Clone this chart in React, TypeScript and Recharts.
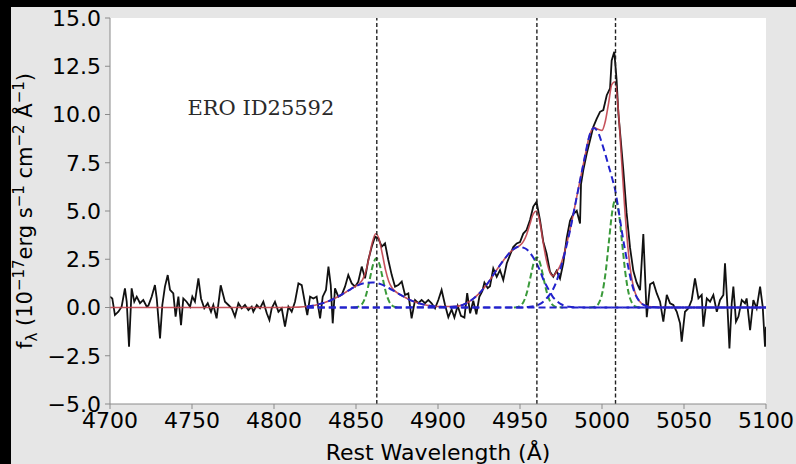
import React from "react";
import {
  LineChart,
  Line,
  XAxis,
  YAxis,
  CartesianGrid,
  ReferenceLine,
  ReferenceDot,
  Label,
} from "recharts";

// observed spectrum (rest wavelength, flux in 1e-17 erg/s/cm2/A)
const specWave = [
  4700.0, 4701.4, 4703.0, 4705.1, 4707.1, 4709.1, 4710.2, 4711.6, 4713.2, 4714.8,
  4716.3, 4718.3, 4720.3, 4722.4, 4723.4, 4725.4, 4727.4, 4728.5, 4730.5, 4731.9,
  4733.5, 4735.2, 4736.6, 4738.6, 4740.0, 4741.7, 4743.3, 4744.7, 4746.7, 4748.8,
  4750.2, 4751.8, 4753.9, 4755.5, 4757.5, 4759.6, 4761.6, 4763.0, 4765.0, 4767.5,
  4770.1, 4772.2, 4774.2, 4776.2, 4778.3, 4780.3, 4782.3, 4784.4, 4786.4, 4787.4,
  4789.5, 4791.5, 4793.5, 4795.6, 4797.2, 4798.6, 4800.6, 4802.7, 4804.7, 4806.7,
  4808.8, 4810.8, 4812.8, 4814.9, 4816.9, 4818.9, 4820.3, 4822.0, 4824.0, 4826.0,
  4828.1, 4829.7, 4831.7, 4833.2, 4834.6, 4835.8, 4837.2, 4839.2, 4841.3, 4843.3,
  4845.3, 4847.4, 4849.4, 4851.4, 4853.5, 4855.5, 4857.5, 4859.6, 4861.6, 4863.6,
  4865.7, 4867.7, 4869.7, 4871.8, 4873.8, 4875.8, 4877.9, 4879.9, 4881.9, 4883.9,
  4886.0, 4888.0, 4890.0, 4892.1, 4894.1, 4896.1, 4898.2, 4900.2, 4902.2, 4904.3,
  4906.3, 4908.3, 4910.0, 4912.0, 4914.0, 4916.1, 4917.8, 4919.6, 4921.5, 4923.4,
  4925.2, 4927.0, 4928.3, 4930.3, 4931.7, 4933.7, 4935.8, 4937.8, 4939.8, 4941.9,
  4943.9, 4945.9, 4948.0, 4950.0, 4952.0, 4954.0, 4956.1, 4958.1, 4960.1, 4962.2,
  4964.2, 4966.2, 4968.3, 4970.3, 4972.3, 4974.4, 4976.4, 4978.5, 4980.5, 4982.5,
  4984.6, 4986.6, 4987.2, 4988.6, 4990.7, 4992.7, 4994.7, 4996.8, 4998.8, 5000.8,
  5002.9, 5004.9, 5005.9, 5007.5, 5008.9, 5010.0, 5011.4, 5013.0, 5015.0, 5017.1,
  5019.1, 5021.1, 5023.2, 5025.2, 5027.3, 5029.3, 5031.3, 5033.4, 5035.4, 5037.4,
  5039.5, 5041.5, 5043.5, 5045.6, 5047.6, 5048.6, 5050.6, 5052.7, 5054.7, 5056.7,
  5058.8, 5060.8, 5061.8, 5063.9, 5065.9, 5067.9, 5070.0, 5072.0, 5074.0, 5075.0,
  5076.5, 5077.7, 5079.1, 5080.1, 5081.7, 5083.2, 5085.2, 5087.2, 5088.2, 5090.3,
  5092.3, 5094.3, 5096.4, 5098.0, 5099.4, 5100.0,
];
const specFlux = [
  0.56, 0.47, -0.39, -0.22, 0.04, 0.99, 0.3, -2.03, 0.99, 0.3,
  0.56, 0.22, 0.39, 0.04, 0.1, 0.56, 1.16, 0.47, -1.6, 0.13,
  1.08, 1.68, 0.91, 0.73, -0.47, 0.56, -0.91, 0.47, 0.3, 0.04,
  0.56, 0.3, 1.51, 0.47, -0.04, 0.22, -0.22, 0.13, -0.56, 1.15,
  0.3, 0.13, -0.04, -0.47, 0.22, -0.04, 0.13, -0.13, 0.04, -0.22,
  0.13, -0.04, 0.3, -0.3, -0.65, -0.04, 0.3, -0.22, -0.04, -0.99,
  0.04, -0.22, 0.3, 1.25, 1.16, 0.22, -0.39, 0.56, 0.47, 0.56,
  -0.56, 0.56, 0.91, 2.12, 1.16, -0.82, 0.99, 0.56, 0.65, 1.08,
  1.68, 1.25, 1.08, 1.34, 2.12, 1.51, 2.46, 3.15, 3.67, 3.58,
  3.15, 3.32, 2.46, 1.68, 1.08, 1.16, 1.34, 0.65, 0.73, -0.56,
  0.39, 0.22, 0.39, 0.22, 0.39, 0.22, -0.04, 0.39, 0.91, 0.13,
  -0.5, -0.1, -0.52, 0.09, -0.43, -0.52, 0.75, -0.3, 0.35, -0.35,
  0.55, 0.85, 1.29, 1.0, 1.1, 2.02, 1.59, 1.94, 1.42, 2.28,
  2.72, 3.13, 3.32, 3.39, 3.83, 4.01, 4.53, 5.23, 5.48, 4.53,
  3.41, 2.8, 1.85, 1.59, 1.9, 1.5, 2.3, 3.6, 4.49, 4.84,
  5.01, 4.35, 6.4, 7.12, 7.98, 8.67, 9.36, 9.79, 10.14, 10.23,
  11.0, 11.35, 12.8, 13.25, 11.8, 10.05, 8.7, 7.12, 4.9, 3.1,
  1.9, 1.3, 0.9, 3.8, -0.5, 1.2, 1.3, 0.73, 0.3, -0.73,
  0.65, 0.22, 0.13, -0.22, -0.82, -1.77, -0.22, -0.04, 0.39, 1.51,
  0.47, 0.65, -0.99, 0.47, 0.3, 0.65, -0.22, 0.39, 0.65, 2.29,
  0.04, -2.12, 0.22, 1.08, -0.73, -0.47, 0.39, 0.22, 0.47, -1.17,
  0.39, -0.04, 1.08, 0.04, -2.03, -1.0,
];

// total model (red)
const fitWave = [
  4700, 4750, 4800, 4810, 4815, 4820, 4825, 4830, 4835, 4840,
  4845, 4850, 4852, 4854, 4856, 4858, 4860, 4862, 4864, 4866,
  4868, 4870, 4872, 4875, 4880, 4885, 4890, 4895, 4900, 4905,
  4910, 4915, 4920, 4925, 4930, 4935, 4940, 4945, 4948, 4950,
  4952, 4954, 4956, 4958, 4960, 4962, 4964, 4966, 4968, 4970,
  4972, 4975, 4980, 4985, 4990, 4992, 4995, 4998, 5000, 5002,
  5004, 5006, 5008, 5010, 5012, 5014, 5016, 5018, 5020, 5022,
  5024, 5027, 5030, 5040, 5100,
];
const fitFlux = [
  0, 0, 0, 0.01, 0.02, 0.05, 0.12, 0.23, 0.39, 0.61,
  0.86, 1.12, 1.23, 1.44, 1.88, 2.6, 3.39, 3.82, 3.56, 2.8,
  1.95, 1.35, 1.01, 0.77, 0.52, 0.32, 0.18, 0.09, 0.05, 0.05,
  0.05, 0.13, 0.36, 0.72, 1.22, 1.85, 2.45, 2.95, 3.12, 3.22,
  3.41, 3.77, 4.31, 4.84, 5.0, 4.48, 3.44, 2.49, 1.87, 1.63,
  1.81, 2.27, 3.84, 5.9, 8.0, 8.8, 9.32, 9.22, 9.18, 9.64,
  10.58, 11.56, 11.7, 10.16, 7.57, 4.96, 2.94, 1.58, 0.82, 0.43,
  0.22, 0.08, 0.03, 0, 0,
];

// broad components (blue dashed)
const hbBroadWave = [4820, 4825, 4830, 4835, 4840, 4845, 4850, 4855, 4860, 4865, 4870, 4875, 4880, 4885, 4890, 4895, 4900, 4905, 4910, 5100];
const hbBroadFlux = [0.05, 0.12, 0.23, 0.39, 0.61, 0.86, 1.1, 1.26, 1.3, 1.21, 1.01, 0.76, 0.52, 0.32, 0.18, 0.09, 0.04, 0.01, 0, 0];

const o3aBroadWave = [4820, 4900, 4905, 4910, 4915, 4920, 4925, 4930, 4935, 4940, 4945, 4948, 4950, 4952, 4954, 4956, 4958, 4960, 4962, 4964, 4966, 4968, 4970, 4972, 4975, 4980, 4985, 4990, 5100];
const o3aBroadFlux = [0, 0.01, 0.02, 0.05, 0.13, 0.36, 0.72, 1.22, 1.85, 2.45, 2.95, 3.12, 3.15, 3.1, 3.02, 2.85, 2.6, 2.3, 1.95, 1.5, 1.15, 0.85, 0.55, 0.38, 0.17, 0.04, 0.01, 0, 0];

const o3bBroadWave = [4820, 4950, 4955, 4960, 4962, 4964, 4966, 4968, 4970, 4972, 4975, 4980, 4985, 4990, 4992, 4995, 4998, 5000, 5002, 5004, 5006, 5008, 5010, 5012, 5014, 5016, 5018, 5020, 5022, 5024, 5027, 5030, 5035, 5100];
const o3bBroadFlux = [0, 0, 0.03, 0.1, 0.17, 0.28, 0.45, 0.65, 0.92, 1.3, 2.1, 3.8, 5.9, 8.0, 8.8, 9.3, 9.0, 8.5, 7.95, 7.35, 6.75, 6.1, 5.1, 4.0, 3.0, 2.1, 1.3, 0.75, 0.42, 0.22, 0.08, 0.03, 0, 0];

// narrow components (green dashed)
const hbNarrowWave = [4848.4, 4850.4, 4852.4, 4854.4, 4856.4, 4858.4, 4860.4, 4862.4, 4864.4, 4866.4, 4868.4, 4870.4, 4872.4, 4874.4, 4876.4];
const hbNarrowFlux = [0, 0.02, 0.08, 0.28, 0.73, 1.47, 2.22, 2.55, 2.22, 1.47, 0.73, 0.28, 0.08, 0.02, 0];

const o3aNarrowWave = [4946.3, 4948.3, 4950.3, 4952.3, 4954.3, 4956.3, 4958.3, 4960.3, 4962.3, 4964.3, 4966.3, 4968.3, 4970.3, 4972.3, 4976.3];
const o3aNarrowFlux = [0, 0.02, 0.1, 0.32, 0.8, 1.54, 2.28, 2.6, 2.28, 1.54, 0.8, 0.32, 0.1, 0.02, 0];

const o3bNarrowWave = [4992.2, 4994.2, 4996.2, 4998.2, 5000.2, 5002.2, 5004.2, 5006.2, 5008.2, 5010.2, 5012.2, 5014.2, 5016.2, 5018.2, 5020.2, 5022.2, 5024.2];
const o3bNarrowFlux = [0, 0.01, 0.06, 0.25, 0.76, 1.82, 3.4, 4.94, 5.6, 4.94, 3.4, 1.82, 0.76, 0.25, 0.06, 0.01, 0];

const lineCentres = [4862.68, 4960.3, 5008.24];
const xTicks = [4700, 4750, 4800, 4850, 4900, 4950, 5000, 5050, 5100];
const yTicks = [-5, -2.5, 0, 2.5, 5, 7.5, 10, 12.5, 15];

const zip = (w: number[], f: number[]) => w.map((x, i) => ({ w: x, f: f[i] }));

const spectrum = zip(specWave, specFlux);
const fit = zip(fitWave, fitFlux);
const broad = [zip(hbBroadWave, hbBroadFlux), zip(o3aBroadWave, o3aBroadFlux), zip(o3bBroadWave, o3bBroadFlux)];
const narrow = [zip(hbNarrowWave, hbNarrowFlux), zip(o3aNarrowWave, o3aNarrowFlux), zip(o3bNarrowWave, o3bNarrowFlux)];

const FONT = "DejaVu Sans";
const AXIS = "#8a8a8a";
const tickStyle = { fontFamily: FONT, fontSize: 22, fill: "#000" };
const fmtY = (v: number) => v.toFixed(1).replace("-", "\u2212");

const XLabel = (props: any) => {
  const vb = props.viewBox || { x: 110, y: 404, width: 656, height: 60 };
  return (
    <text x={vb.x + vb.width / 2} y={vb.y + 56} textAnchor="middle" fontFamily={FONT} fontSize={22} fill="#000">
      Rest Wavelength (Å)
    </text>
  );
};

const YLabel = (props: any) => {
  const vb = props.viewBox || { x: 0, y: 18, width: 110, height: 386 };
  const cx = vb.x + 32;
  const cy = vb.y + vb.height / 2;
  return (
    <text transform={`translate(${cx},${cy}) rotate(-90)`} textAnchor="middle" fontFamily={FONT} fontSize={21} fill="#000">
      f<tspan fontSize={15} dy={5}>λ</tspan>
      <tspan dy={-5}> (10</tspan>
      <tspan fontSize={15} dy={-8}>−17</tspan>
      <tspan dy={8}>erg s</tspan>
      <tspan fontSize={15} dy={-8}>−1</tspan>
      <tspan dy={8}> cm</tspan>
      <tspan fontSize={15} dy={-8}>−2</tspan>
      <tspan dy={8}> Å</tspan>
      <tspan fontSize={15} dy={-8}>−1</tspan>
      <tspan dy={8}>)</tspan>
    </text>
  );
};

export default function App() {
  return (
    <div style={{ position: "absolute", left: 0, top: 0, width: 796, height: 464, background: "#000" }}>
      <div style={{ position: "absolute", left: 11, top: 7, right: 0, bottom: 0, background: "#e6e6e6" }} />
      <div style={{ position: "absolute", left: 0, top: 0 }}>
        <LineChart width={796} height={464} margin={{ top: 18, right: 30, bottom: 0, left: 0 }}>
          <CartesianGrid fill="#fff" horizontal={false} vertical={false} />
          <XAxis
            type="number"
            dataKey="w"
            domain={[4700, 5100]}
            ticks={xTicks}
            interval={0}
            allowDataOverflow
            height={60}
            stroke={AXIS}
            tickSize={5}
            tickMargin={3}
            tick={tickStyle}
          >
            <Label content={XLabel} />
          </XAxis>
          <XAxis
            xAxisId="top"
            orientation="top"
            type="number"
            domain={[4700, 5100]}
            height={0}
            tick={false}
            tickLine={false}
            stroke={AXIS}
          />
          <YAxis
            type="number"
            domain={[-5, 15]}
            ticks={yTicks}
            interval={0}
            allowDataOverflow
            width={110}
            stroke={AXIS}
            tickSize={5}
            tickMargin={4}
            tick={tickStyle}
            tickFormatter={fmtY}
          >
            <Label content={YLabel} />
          </YAxis>
          <YAxis
            yAxisId="right"
            orientation="right"
            type="number"
            domain={[-5, 15]}
            width={0}
            tick={false}
            tickLine={false}
            stroke={AXIS}
          />

          <Line data={spectrum} dataKey="f" type="linear" stroke="#111" strokeWidth={1.8} dot={false} activeDot={false} isAnimationActive={false} />
          <Line data={fit} dataKey="f" type="monotone" stroke="#c0404a" strokeOpacity={0.9} strokeWidth={1.6} dot={false} activeDot={false} isAnimationActive={false} />
          {narrow.map((d, i) => (
            <Line key={`n${i}`} data={d} dataKey="f" type="monotone" stroke="#3a9a3a" strokeWidth={2} strokeDasharray="6 3" dot={false} activeDot={false} isAnimationActive={false} />
          ))}
          {broad.map((d, i) => (
            <Line key={`b${i}`} data={d} dataKey="f" type="monotone" stroke="#2222cc" strokeWidth={2} strokeDasharray="7 4" dot={false} activeDot={false} isAnimationActive={false} />
          ))}
          {lineCentres.map((c) => (
            <ReferenceLine key={c} x={c} stroke="#222" strokeWidth={1.4} strokeDasharray="4 2.5" />
          ))}
          <ReferenceDot
            x={4792}
            y={10.36}
            r={0}
            stroke="none"
            label={{ value: "ERO ID25592", position: "center", fontFamily: "DejaVu Serif", fontSize: 21, fill: "#2a2a2a" }}
          />
        </LineChart>
      </div>
    </div>
  );
}
